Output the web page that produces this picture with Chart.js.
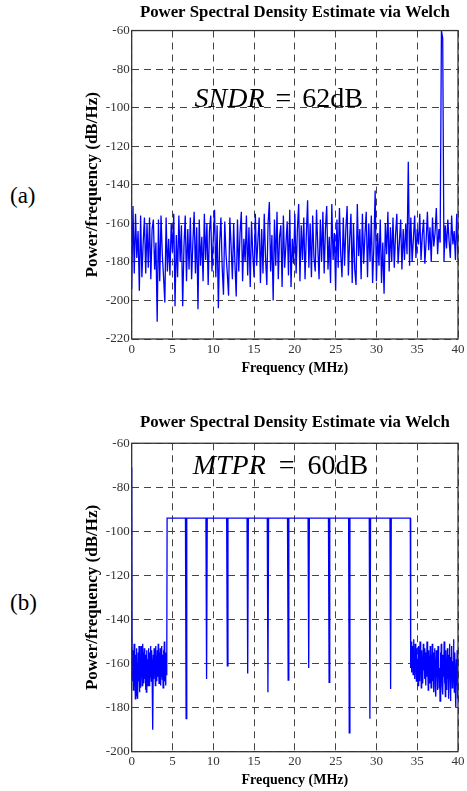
<!DOCTYPE html>
<html>
<head>
<meta charset="utf-8">
<script src="https://cdn.jsdelivr.net/npm/chart.js@4.4.1/dist/chart.umd.min.js"></script>
<style>
  body { margin: 0; background: #fff; width: 467px; height: 791px; overflow: hidden; position: relative; }
  canvas { position: absolute; left: 0; }
  #chartA { top: 0; }
  #chartB { top: 395px; }
  .tag { position: absolute; left: 10px; font: 23px "Liberation Serif", serif; line-height: 23px; }
</style>
</head>
<body>
<div class="tag" style="top:184px">(a)</div>
<canvas id="chartA" width="467" height="380"></canvas>
<div class="tag" style="top:591px">(b)</div>
<canvas id="chartB" width="467" height="396"></canvas>
<script>
// tick labels
const freqTicks = [0, 5, 10, 15, 20, 25, 30, 35, 40];
const dbTicksA = [-220, -200, -180, -160, -140, -120, -100, -80, -60];
const dbTicksB = [-200, -180, -160, -140, -120, -100, -80, -60];

// (a) welch PSD, 257 bins from 0 to 40 MHz
const binStepA = 40 / 256;
const psdA = [
  -194, -151, -186, -155, -178, -164, -195, -156, -188, -170, -157, -186, -160, -183, -157, -189,
  -163, -158, -184, -170, -211, -158, -190, -156, -176, -188, -201, -157, -185, -168, -187, -160,
  -175, -155, -203, -166, -188, -156, -180, -161, -203, -172, -156, -190, -163, -184, -157, -189,
  -170, -154, -186, -162, -204.5, -158, -182, -167, -190, -155, -179, -160, -192, -164, -156, -185,
  -168, -153, -188, -161, -204, -170, -157, -183, -197, -159, -176, -186, -197.5, -157, -172, -189,
  -160, -181, -198, -158, -185, -165, -154, -190, -168, -180, -156, -187, -162, -193, -159, -176,
  -188, -155, -182, -169, -157, -191, -163, -186, -155, -178, -192, -160, -149, -185, -166, -200,
  -158, -182, -154, -189, -167, -161, -193, -156, -183, -171, -159, -187, -153, -193, -168, -181,
  -155, -186, -163, -150, -190, -161, -179, -157, -189, -166, -148, -183, -160, -188, -156, -178,
  -185, -153, -172, -189, -158, -180, -154, -186, -163, -151, -184, -167, -191, -150, -179, -165,
  -195, -158, -183, -152, -176, -188, -157, -182, -163, -151, -187, -168, -155, -191, -160, -184,
  -192, -150, -177, -163, -189, -155, -181, -166, -154, -188, -160, -180, -156, -191, -172, -143,
  -190, -165, -182, -158, -191, -170, -196.5, -160, -176, -154, -185, -162, -180, -157, -183, -166,
  -155, -181, -170, -158, -184, -163, -179, -160, -176, -128, -182, -157, -180, -168, -156, -178,
  -163, -171, -155, -179, -166, -158, -181, -169, -154, -174, -162, -180, -157, -172, -165, -152,
  -176, -163, -170, -60, -64, -180, -161, -173, -158, -169, -178, -156, -171, -164, -179, -155,
  -179
];

// (b) multi-tone: noise below 4.3 MHz and above 34.2 MHz, flat tones with notches between
const dcLevelB = -71;
const noiseStepB = 0.05;
const noiseLowStartB = 0.05;
const noiseLowB = [
  -160, -168, -154, -172, -158, -151, -170, -163, -176, -156,
  -166, -153, -174, -160, -176, -155, -168, -152, -173, -162,
  -157, -171, -152, -166, -158, -170, -151, -164, -155, -169,
  -153, -167, -160, -172, -156, -173, -154, -165, -158, -170,
  -153, -163, -170, -155, -166, -152, -161, -168, -154, -164,
  -158, -190, -156, -167, -153, -165, -159, -170, -152, -163,
  -157, -168, -154, -166, -151, -162, -169, -155, -164, -153,
  -170, -158, -166, -152, -167, -156, -171, -154, -163, -150,
  -168, -157, -170, -155, -165, -160
];
const toneLevelB = -94;
const toneBandB = [4.34, 34.15];
const notchFreqB = [6.67, 9.18, 11.72, 14.22, 16.7, 19.18, 21.7, 24.2, 26.67, 29.2, 31.74];
const notchDepthB = [-185, -167, -161, -164.5, -173, -167.5, -162, -168.5, -191.5, -185, -171.5];
const notchHalfB = 0.08;
const noiseHighStartB = 34.2;
const noiseHighB = [
  -162, -150, -164, -155, -160, -152, -165, -149, -161, -156,
  -167, -151, -163, -155, -168, -153, -162, -158, -170, -152,
  -164, -157, -168, -150, -162, -155, -171, -154, -165, -159,
  -169, -151, -163, -156, -167, -153, -160, -170, -155, -166,
  -150, -164, -158, -172, -154, -165, -157, -169, -152, -163,
  -171, -156, -166, -151, -168, -159, -173, -155, -164, -153,
  -170, -158, -175, -154, -166, -160, -172, -152, -165, -157,
  -171, -162, -177, -155, -168, -151, -163, -170, -156, -174,
  -158, -166, -150, -169, -160, -175, -154, -164, -158, -172,
  -153, -167, -161, -176, -156, -165, -151, -170, -177, -157,
  -166, -152, -171, -159, -168, -149, -163, -173, -155, -167,
  -161, -180, -158, -170, -154, -176, -165
];

const serif = '"Liberation Serif", "Times New Roman", serif';

const pointsA = psdA.map((v, i) => ({ x: i * binStepA, y: v }));

const pointsB = [{ x: 0, y: dcLevelB }];
noiseLowB.forEach((v, i) => pointsB.push({ x: noiseLowStartB + i * noiseStepB, y: v }));
pointsB.push({ x: toneBandB[0], y: toneLevelB });
notchFreqB.forEach((f, i) => {
  pointsB.push({ x: f - notchHalfB, y: toneLevelB });
  pointsB.push({ x: f, y: notchDepthB[i] });
  pointsB.push({ x: f + notchHalfB, y: toneLevelB });
});
pointsB.push({ x: toneBandB[1], y: toneLevelB });
noiseHighB.forEach((v, i) => pointsB.push({ x: noiseHighStartB + i * noiseStepB, y: v }));

// box round the plot, like matlab "box on"
const framePlugin = {
  id: 'frame',
  afterDatasetsDraw(chart) {
    const { ctx, chartArea: a } = chart;
    ctx.save();
    ctx.strokeStyle = '#333';
    ctx.lineWidth = 1.3;
    ctx.strokeRect(a.left, a.top, a.right - a.left, a.bottom - a.top);
    ctx.restore();
  }
};

// the "SNDR = 62dB" text, placed in data units
function noteLabel(parts, at, gap) {
  return {
    id: 'note',
    afterDatasetsDraw(chart) {
      const { ctx, scales: { x, y } } = chart;
      let px = x.getPixelForValue(at[0]);
      const py = y.getPixelForValue(at[1]);
      ctx.save();
      ctx.fillStyle = '#000';
      ctx.textBaseline = 'alphabetic';
      ctx.textAlign = 'left';
      parts.forEach(([text, italic]) => {
        ctx.font = (italic ? 'italic ' : '') + '28px ' + serif;
        ctx.fillText(text, px, py);
        px += ctx.measureText(text).width + gap;
      });
      ctx.restore();
    }
  };
}

function makeChart(id, cfg) {
  return new Chart(document.getElementById(id), {
    type: 'line',
    data: {
      datasets: [{
        data: cfg.points,
        borderColor: '#0000ff',
        borderWidth: 1.3,
        pointRadius: 0,
        tension: 0
      }]
    },
    options: {
      responsive: false,
      animation: false,
      events: [],
      layout: { padding: { left: 78, right: 7, top: 0, bottom: 0 } },
      plugins: {
        legend: { display: false },
        tooltip: { enabled: false },
        title: {
          display: true,
          fullSize: false,
          text: 'Power Spectral Density Estimate via Welch',
          color: '#000',
          font: { family: serif, size: 16.8, weight: 'bold' },
          padding: cfg.titlePad
        }
      },
      scales: {
        x: {
          type: 'linear',
          min: 0,
          max: 40,
          afterBuildTicks: s => { s.ticks = freqTicks.map(v => ({ value: v })); },
          afterFit: s => { s.height = cfg.xAxisH; },
          grid: { color: '#444', lineWidth: 1, drawTicks: false },
          border: { display: false, dash: [7, 5] },
          ticks: { color: '#333', padding: 2.5, maxRotation: 0, font: { family: serif, size: 13 } },
          title: {
            display: true,
            text: 'Frequency (MHz)',
            color: '#000',
            font: { family: serif, size: 14, weight: 'bold' },
            padding: { top: 0, bottom: cfg.xTitlePad }
          }
        },
        y: {
          type: 'linear',
          min: cfg.yTicks[0],
          max: cfg.yTicks[cfg.yTicks.length - 1],
          afterBuildTicks: s => { s.ticks = cfg.yTicks.map(v => ({ value: v })); },
          afterFit: s => { s.width = 53.7; },
          grid: { color: '#444', lineWidth: 1, drawTicks: false },
          border: { display: false, dash: [7, 5] },
          ticks: { color: '#333', padding: 2, font: { family: serif, size: 13 } },
          title: {
            display: true,
            text: 'Power/frequency (dB/Hz)',
            color: '#000',
            font: { family: serif, size: 17, weight: 'bold' },
            padding: { top: 4, bottom: 0 }
          }
        }
      }
    },
    plugins: [framePlugin, noteLabel(cfg.note, cfg.noteAt, cfg.noteGap)]
  });
}

makeChart('chartA', {
  points: pointsA,
  yTicks: dbTicksA,
  titlePad: { top: 2.2, bottom: 8.2 },
  xAxisH: 41,
  xTitlePad: 3.6,
  note: [['SNDR', true], ['=', false], ['62dB', false]],
  noteAt: [7.7, -99.5],
  noteGap: 11
});

makeChart('chartB', {
  points: pointsB,
  yTicks: dbTicksB,
  titlePad: { top: 18, bottom: 10.1 },
  xAxisH: 39.3,
  xTitlePad: 2.1,
  note: [['MTPR', true], ['=', false], ['60dB', false]],
  noteAt: [7.48, -73.9],
  noteGap: 13
});
</script>
</body>
</html>
